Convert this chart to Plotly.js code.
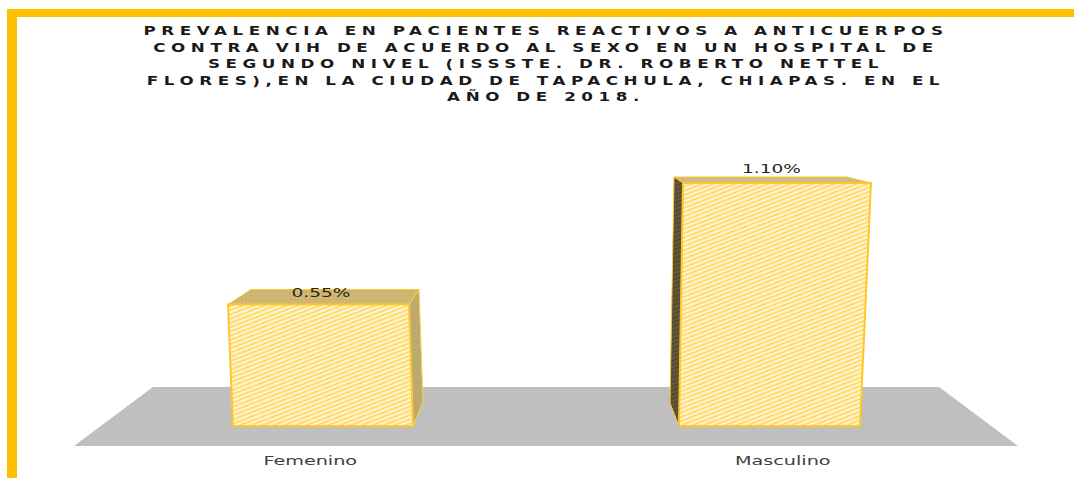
<!DOCTYPE html>
<html><head><meta charset="utf-8">
<script src="https://cdn.plot.ly/plotly-3.0.0.min.js"></script>
<style>html,body{margin:0;padding:0;background:#fff;overflow:hidden}#c{width:1074px;height:478px}</style>
</head><body><div id="c"></div>
<script>
const categories = ['Femenino', 'Masculino'];
const values = [0.55, 1.10];
const valueLabels = ['0.55%', '1.10%'];
const titleLines = [
  'PREVALENCIA EN PACIENTES REACTIVOS A ANTICUERPOS',
  'CONTRA VIH DE ACUERDO AL SEXO EN UN HOSPITAL DE',
  'SEGUNDO NIVEL (ISSSTE. DR. ROBERTO NETTEL',
  'FLORES),EN LA CIUDAD DE TAPACHULA, CHIAPAS. EN EL',
  'AÑO DE 2018.'
];

// plot frame, in page pixels
const W = 1074, H = 478, L = 74, R = 1019, T = 120, B = 446, BASE = 426;
const unitX = (R - L) / 2;            // px per category
const unitY = (BASE - 183) / values[1]; // px per percent point
const X = p => -0.5 + (p - L) / unitX;
const Y = p => (BASE - p) / unitY;
const PX = p => (p - L) / (R - L);
const PY = p => (B - p) / (B - T);

const yellow = '#FFC000';
const hatch = (bg, fg, size, sol) => ({shape: '/', bgcolor: bg, fgcolor: fg, size: size || 3, solidity: sol || 0.36});
const frontHatch = hatch('#FFF4CF', '#FFD658');

// bar geometry in page px
const geo = [
  {bl: 233, il: 233, ir: 409, br: 413, tl: 228, tr: 409},
  {bl: 679, il: 683, ir: 860, br: 860, tl: 683, tr: 871}
];

function poly(xs, ys, fillcolor, fillpattern, line) {
  const t = {type: 'scatter', mode: 'lines', x: xs.map(X), y: ys, hoverinfo: 'skip', showlegend: false,
             line: line || {width: 0}, fill: 'toself', fillcolor: fillcolor};
  if (fillpattern) t.fillpattern = fillpattern;
  return t;
}

const traces = [];
traces.push({
  type: 'bar', x: [0, 1], y: values, hoverinfo: 'skip', showlegend: false,
  width: geo.map(g => (g.ir - g.il) / unitX),
  offset: geo.map((g, i) => X(g.il) - i),
  marker: {color: '#FFF4CF', line: {width: 0}, pattern: frontHatch}
});

values.forEach((v, i) => {
  const g = geo[i];
  // skewed slivers of the front face
  traces.push(poly([g.bl, g.tl, g.il + 1, g.il + 1, g.bl], [0, v, v, 0, 0], '#FFF4CF', frontHatch));
  traces.push(poly([g.ir - 1, g.ir - 1, g.tr, g.br, g.ir - 1], [0, v, v, 0, 0], '#FFF4CF', frontHatch));
});

// Femenino: top and right side
{
  const v = values[0], d = Y(BASE - 15);
  traces.push(poly([228, 251, 419, 409, 228], [v, v + d, v + d, v, v], '#BFA868',
    {shape: '.', bgcolor: '#C4B388', fgcolor: '#E6BC3C', size: 4, solidity: 0.3}, {color: '#FFC72E', width: 1}));
  traces.push(poly([409, 419, 423, 413, 409], [v, v + d, Y(402), 0, v], '#B5A36D',
    hatch('#B4AA8C', '#CBA93F'), {color: '#FFD34F', width: 1}));
}
// Masculino: top and left side
{
  const v = values[1], d = Y(BASE - 6);
  traces.push(poly([683, 674, 847, 871, 683], [v, v + d, v + d, v, v], '#BFB48A',
    {shape: '.', bgcolor: '#C4BCA4', fgcolor: '#E6BC3C', size: 4, solidity: 0.3}, {color: '#FFC72E', width: 1}));
  traces.push(poly([683, 674, 670, 679, 683], [v, v + d, Y(403), 0, v], '#5B4F35',
    hatch('#65583A', '#4F4632'), {color: '#FFC72E', width: 1}));
}
// front outlines
values.forEach((v, i) => {
  const g = geo[i];
  traces.push({type: 'scatter', mode: 'lines', x: [g.bl, g.tl, g.tr, g.br, g.bl].map(X), y: [0, v, v, 0, 0],
    hoverinfo: 'skip', showlegend: false, line: {color: '#FFC72E', width: 2}});
});
// value labels
traces.push({
  type: 'scatter', mode: 'text', x: geo.map((g, i) => X((g.il + g.ir) / 2)),
  y: values.map((v, i) => v + Y(BASE - (i === 0 ? 10.5 : 13))),
  text: valueLabels, textposition: 'middle center', hoverinfo: 'skip', showlegend: false, cliponaxis: false,
  textfont: {family: 'DejaVu Sans', size: 12, color: '#262626'}
});

const layout = {
  width: W, height: H, autosize: false, paper_bgcolor: '#fff', plot_bgcolor: 'rgba(0,0,0,0)', showlegend: false,
  margin: {l: L, r: W - R, t: T, b: H - B, pad: 0},
  bargap: 0,
  title: {text: titleLines.join('<br>'), x: 546 / W, xanchor: 'center', y: 1 - 35 / H, yanchor: 'top',
          font: {family: 'DejaVu Sans', size: 12.7, color: '#1a1a1a', weight: 700}},
  xaxis: {range: [-0.5, 1.5], tickvals: [0, 1], ticktext: categories, showgrid: false, zeroline: false, showline: false,
          ticks: 'outside', ticklen: 4, tickcolor: 'rgba(0,0,0,0)', fixedrange: true,
          tickfont: {family: 'DejaVu Sans', size: 12, color: '#404040'}},
  yaxis: {range: [Y(B), Y(T)], visible: false, fixedrange: true},
  shapes: [
    {type: 'path', layer: 'below', xref: 'paper', yref: 'paper', line: {width: 0}, fillcolor: '#BFBFBF',
     path: `M ${PX(74)} ${PY(446)} L ${PX(153)} ${PY(387)} L ${PX(939)} ${PY(387)} L ${PX(1018)} ${PY(446)} Z`},
    {type: 'rect', layer: 'above', xref: 'paper', yref: 'paper', line: {width: 0}, fillcolor: yellow,
     x0: PX(7), x1: PX(1074), y0: PY(9), y1: PY(17)},
    {type: 'rect', layer: 'above', xref: 'paper', yref: 'paper', line: {width: 0}, fillcolor: yellow,
     x0: PX(7), x1: PX(17), y0: PY(9), y1: PY(478)}
  ]
};

function stretch(el, s) {
  const b = el.getBBox();
  const cx = b.x + b.width / 2;
  const old = el.getAttribute('transform') || '';
  el.setAttribute('transform', `${old} translate(${cx},0) scale(${s},1) translate(${-cx},0)`);
}

Plotly.newPlot('c', traces, layout, {displayModeBar: false, staticPlot: true}).then(gd => {
  document.querySelectorAll('pattern').forEach(p => {
    if (p.querySelector('path')) p.setAttribute('patternTransform', 'scale(2.6,1)');
  });
  const title = gd.querySelector('.gtitle');
  if (title) { title.style.letterSpacing = '4.2px'; stretch(title, 1.32); }
  gd.querySelectorAll('.xtick text').forEach(t => stretch(t, 1.6));
  gd.querySelectorAll('.textpoint text').forEach(t => stretch(t, 1.55));
});
</script></body></html>
